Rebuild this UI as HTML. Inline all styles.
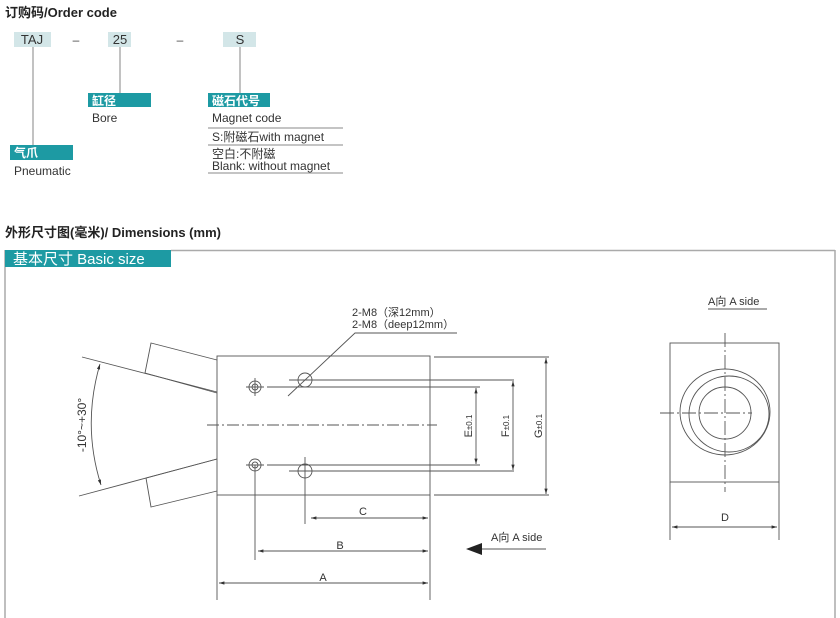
<!DOCTYPE html>
<html><head><meta charset="utf-8"><style>
body{margin:0;background:#fff;width:840px;height:618px;overflow:hidden;position:relative;font-family:"Liberation Sans","Noto Sans CJK SC",sans-serif;}
.a{position:absolute;white-space:nowrap;}
</style></head><body>
<svg width="840" height="618" style="position:absolute;left:0;top:0" font-family="Liberation Sans, Noto Sans CJK SC, sans-serif">
<defs>
<marker id="ar" viewBox="0 0 10 10" refX="10" refY="5" markerWidth="6" markerHeight="6" orient="auto-start-reverse"><path d="M0,2 L10,5 L0,8 z" fill="#333"/></marker>
</defs>
<text x="5" y="17" font-size="13" font-weight="bold" fill="#222">订购码/Order code</text>
<rect x="14" y="32" width="37" height="15" fill="#d3e6e8"/><text x="32" y="44" font-size="13" text-anchor="middle" fill="#333">TAJ</text>
<text x="76" y="44" font-size="12" text-anchor="middle" fill="#444">–</text>
<rect x="108" y="32" width="23" height="15" fill="#d3e6e8"/><text x="120" y="44" font-size="13" text-anchor="middle" fill="#333">25</text>
<text x="180" y="44" font-size="12" text-anchor="middle" fill="#444">–</text>
<rect x="223" y="32" width="33" height="15" fill="#d3e6e8"/><text x="240" y="44" font-size="13" text-anchor="middle" fill="#333">S</text>
<g stroke="#999" stroke-width="1.2"><line x1="33" y1="47" x2="33" y2="145"/><line x1="120" y1="47" x2="120" y2="93"/><line x1="240" y1="47" x2="240" y2="93"/></g>
<rect x="10" y="145" width="63" height="15" fill="#1d9aa3"/><text x="14" y="157" font-size="12" font-weight="bold" fill="#fff">气爪</text>
<text x="14" y="175" font-size="12" fill="#333">Pneumatic</text>
<rect x="88" y="93" width="63" height="14" fill="#1d9aa3"/><text x="92" y="105" font-size="12" font-weight="bold" fill="#fff">缸径</text>
<text x="92" y="122" font-size="12" fill="#333">Bore</text>
<rect x="208" y="93" width="62" height="14" fill="#1d9aa3"/><text x="212" y="105" font-size="12" font-weight="bold" fill="#fff">磁石代号</text>
<text x="212" y="122" font-size="12" fill="#333">Magnet code</text>
<g stroke="#888"><line x1="208" y1="128" x2="343" y2="128"/><line x1="208" y1="145" x2="343" y2="145"/><line x1="208" y1="173" x2="343" y2="173"/></g>
<text x="212" y="141" font-size="12" fill="#333">S:附磁石with magnet</text>
<text x="212" y="158" font-size="12" fill="#333">空白:不附磁</text>
<text x="212" y="170" font-size="12" fill="#333">Blank: without magnet</text>

<text x="5" y="237" font-size="13" font-weight="bold" fill="#222">外形尺寸图(毫米)/ Dimensions (mm)</text>
<g stroke="#aaa" stroke-width="1.5" fill="none"><line x1="171" y1="250.5" x2="835" y2="250.5"/><line x1="5" y1="250" x2="5" y2="618"/><line x1="835" y1="250" x2="835" y2="618"/></g>
<rect x="5" y="250" width="166" height="17" fill="#1d9aa3"/>
<text x="13" y="264" font-size="15" fill="#fff">基本尺寸  Basic size</text>

<g stroke="#555" stroke-width="0.9" fill="none">
<rect x="217" y="356" width="213" height="139"/>
<line x1="82" y1="357" x2="217" y2="392"/>
<polyline points="217,360 151,343 145,373"/>
<line x1="145" y1="373" x2="217" y2="393"/>
<line x1="79" y1="496" x2="217" y2="459"/>
<polyline points="217,491 151,507 146,478"/>
<line x1="146" y1="478" x2="217" y2="459"/>
<path d="M100,364 Q82,425 101,485" marker-start="url(#ar)" marker-end="url(#ar)"/>
<line x1="207" y1="425" x2="437" y2="425" stroke-dasharray="12,3,2,3"/>
<circle cx="255" cy="387" r="6"/><circle cx="255" cy="387" r="3"/><line x1="246" y1="387" x2="264" y2="387"/><line x1="255" y1="378" x2="255" y2="396"/>
<circle cx="255" cy="465" r="6"/><circle cx="255" cy="465" r="3"/><line x1="246" y1="465" x2="264" y2="465"/>
<circle cx="305" cy="380" r="7"/><circle cx="305" cy="471" r="7"/>
<line x1="289" y1="380" x2="514" y2="380"/><line x1="267" y1="387" x2="480" y2="387"/>
<line x1="267" y1="465" x2="480" y2="465"/><line x1="289" y1="471" x2="514" y2="471"/>
<line x1="434" y1="357" x2="549" y2="357"/><line x1="434" y1="495" x2="549" y2="495"/>
<line x1="476" y1="388" x2="476" y2="464" marker-start="url(#ar)" marker-end="url(#ar)"/>
<line x1="513" y1="381" x2="513" y2="470" marker-start="url(#ar)" marker-end="url(#ar)"/>
<line x1="546" y1="358" x2="546" y2="494" marker-start="url(#ar)" marker-end="url(#ar)"/>
<polyline points="288,396 355,333 457,333"/>
<line x1="217" y1="495" x2="217" y2="600"/><line x1="430" y1="495" x2="430" y2="600"/>
<line x1="255" y1="465" x2="255" y2="560"/><line x1="305" y1="457" x2="305" y2="524"/>
<line x1="311" y1="518" x2="428" y2="518" marker-start="url(#ar)" marker-end="url(#ar)"/>
<line x1="258" y1="551" x2="428" y2="551" marker-start="url(#ar)" marker-end="url(#ar)"/>
<line x1="219" y1="583" x2="428" y2="583" marker-start="url(#ar)" marker-end="url(#ar)"/>
<line x1="476" y1="549" x2="546" y2="549"/>
<rect x="670" y="343" width="109" height="139"/>
<line x1="725" y1="333" x2="725" y2="492" stroke-dasharray="14,3,2,3"/>
<line x1="660" y1="413" x2="752" y2="413" stroke-dasharray="14,3,2,3"/>
<ellipse cx="725" cy="412" rx="45" ry="43"/><ellipse cx="729" cy="414" rx="40" ry="38"/><circle cx="725" cy="413" r="26"/>
<line x1="670" y1="482" x2="670" y2="540"/><line x1="779" y1="482" x2="779" y2="540"/>
<line x1="672" y1="527" x2="777" y2="527" marker-start="url(#ar)" marker-end="url(#ar)"/>
<line x1="708" y1="309" x2="767" y2="309"/>
</g>
<path d="M466,549 L482,543 L482,555 z" fill="#222"/>
<g font-size="11" fill="#333">
<text x="352" y="316">2-M8（深12mm）</text>
<text x="352" y="328">2-M8（deep12mm）</text>
<text transform="translate(86,425) rotate(-90)" text-anchor="middle" font-size="12">-10°~+30°</text>
<text transform="translate(472,426) rotate(-90)" text-anchor="middle">E<tspan font-size="8">±0.1</tspan></text>
<text transform="translate(509,426) rotate(-90)" text-anchor="middle">F<tspan font-size="8">±0.1</tspan></text>
<text transform="translate(542,426) rotate(-90)" text-anchor="middle">G<tspan font-size="8">±0.1</tspan></text>
<text x="363" y="515" text-anchor="middle">C</text>
<text x="340" y="549" text-anchor="middle">B</text>
<text x="323" y="581" text-anchor="middle">A</text>
<text x="491" y="541">A向  A side</text>
<text x="708" y="305">A向 A side</text>
<text x="725" y="521" text-anchor="middle">D</text>
</g>
</svg>
</body></html>
